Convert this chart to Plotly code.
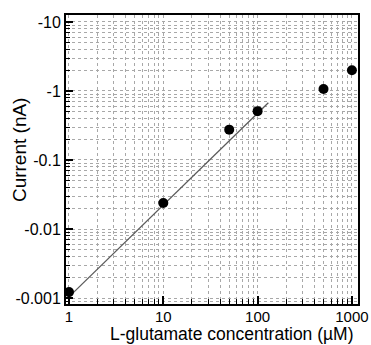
import plotly.graph_objects as go
import numpy as np

# Data: L-glutamate concentration (uM) vs current (nA, negative)
conc = [1, 10, 50, 100, 500, 1000]
current = [-0.00122, -0.0238, -0.275, -0.51, -1.07, -2.0]

# Fitted line endpoints
fit_conc = [1, 130]
fit_current = [-0.00104, -0.675]

ytickvals = [0.001, 0.01, 0.1, 1, 10]
yticktext = ["-0.001", "-0.01", "-0.1", "-1", "-10"]
xtickvals = [1, 10, 100, 1000]
xticktext = ["1", "10", "100", "1000"]

def minor_vals(decades):
    return [m * d for d in decades for m in range(2, 10)]

x_minor = minor_vals([1, 10, 100, 1000])
y_minor = minor_vals([0.0001, 0.001, 0.01, 0.1, 1, 10])

fig = go.Figure()
fig.add_trace(go.Scatter(x=fit_conc, y=[-v for v in fit_current], mode="lines",
                         line=dict(color="#5a5a5a", width=1.3), showlegend=False))
fig.add_trace(go.Scatter(x=conc, y=[-v for v in current], mode="markers",
                         marker=dict(color="black", size=10), showlegend=False))

font = "Liberation Sans, Arial, sans-serif"
grid = dict(showgrid=True, gridcolor="#a8a8a8", griddash="dot", gridwidth=1)
fig.update_layout(
    width=371, height=345,
    margin=dict(l=66, r=13, t=15, b=41),
    paper_bgcolor="white", plot_bgcolor="white",
    font=dict(family=font, size=16, color="black"),
    xaxis=dict(type="log", range=[np.log10(0.93), np.log10(1160)],
               tickmode="array", tickvals=xtickvals, ticktext=xticktext,
               ticks="inside", ticklen=8, tickwidth=1.5, tickcolor="black",
               showline=True, linecolor="black", linewidth=2, mirror=True,
               minor=dict(tickmode="array", tickvals=x_minor, ticks="inside",
                          ticklen=5, tickwidth=1.2, tickcolor="black", **grid),
               **grid, zeroline=False, automargin=False,
               ticklabelstandoff=-2,
               tickfont=dict(size=15)),
    yaxis=dict(type="log", range=[np.log10(0.00082), np.log10(12.6)],
               tickmode="array", tickvals=ytickvals, ticktext=yticktext,
               ticks="inside", ticklen=7, tickwidth=1.5, tickcolor="black",
               showline=True, linecolor="black", linewidth=2, mirror=True,
               minor=dict(tickmode="array", tickvals=y_minor, ticks="inside",
                          ticklen=4, tickwidth=1.2, tickcolor="black", **grid),
               **grid, zeroline=False, automargin=False,
               tickfont=dict(size=16)),
    annotations=[
        dict(text="L-glutamate concentration (µM)", xref="paper", yref="paper",
             x=0.568, y=-0.1045, xanchor="center", yanchor="middle",
             showarrow=False, font=dict(size=17.5)),
        dict(text="Current (nA)", xref="paper", yref="paper",
             x=-0.161, y=0.536, xanchor="center", yanchor="middle", textangle=-90,
             showarrow=False, font=dict(size=19)),
    ],
)
fig.write_html("out.html")
